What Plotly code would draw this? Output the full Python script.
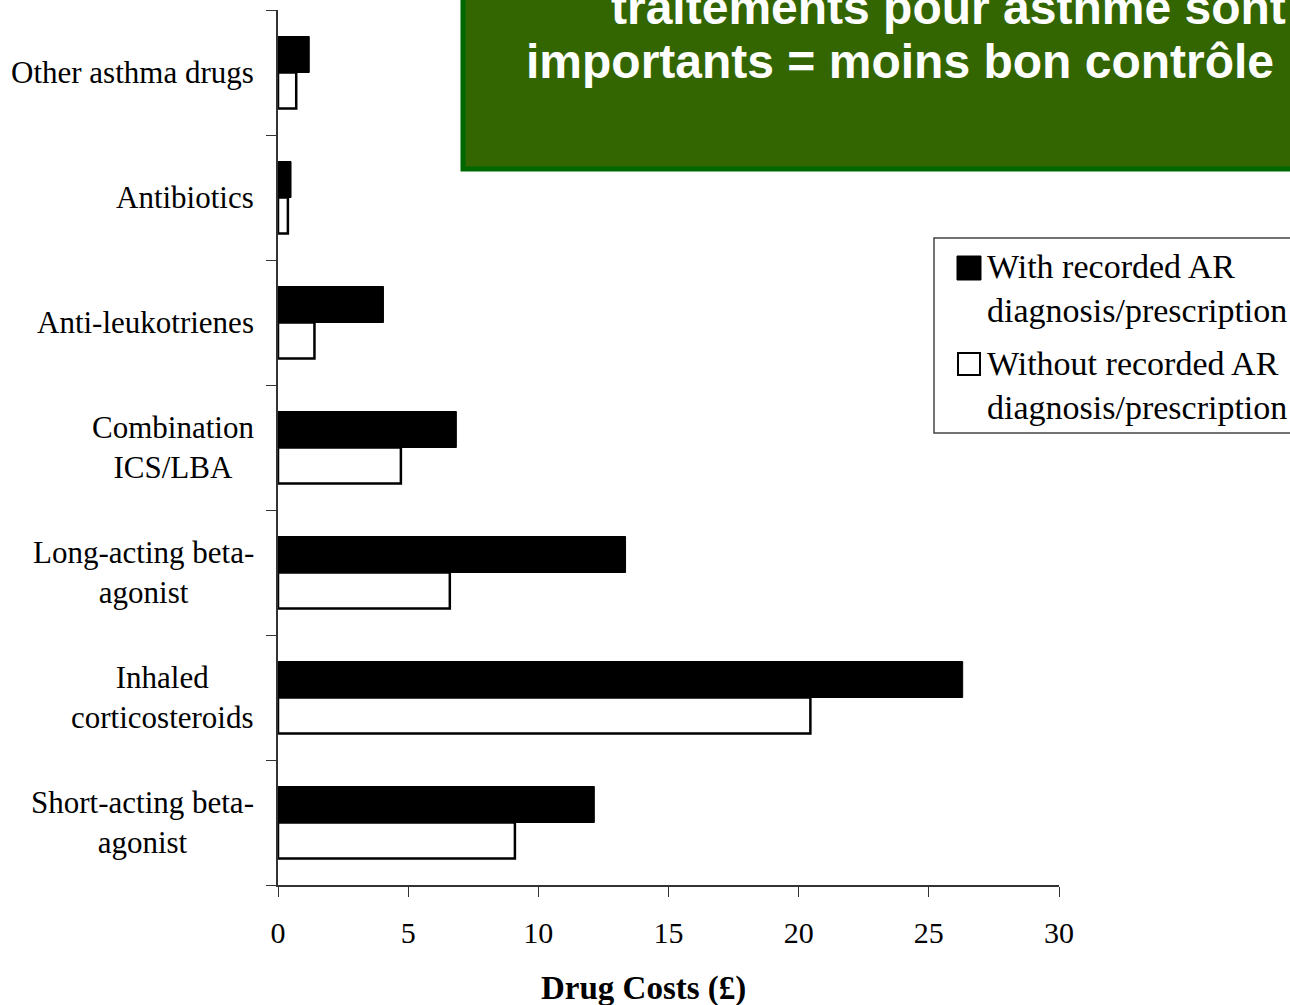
import plotly.graph_objects as go

# Categories from bottom to top
categories = [
    "Short-acting beta-<br>agonist",
    "Inhaled<br>corticosteroids",
    "Long-acting beta-<br>agonist",
    "Combination<br>ICS/LBA",
    "Anti-leukotrienes",
    "Antibiotics",
    "Other asthma drugs",
]
with_ar = [12.15, 26.3, 13.35, 6.85, 4.05, 0.5, 1.2]
without_ar = [9.1, 20.45, 6.6, 4.72, 1.4, 0.38, 0.7]
x_ticks = [0, 5, 10, 15, 20, 25, 30]
series_names = ["With recorded AR<br>diagnosis/prescription",
                "Without recorded AR<br>diagnosis/prescription"]
x_title = "Drug Costs (£)"
banner_lines = ["traitements pour asthme sont", "importants = moins bon contrôle"]

W, H = 1290, 1005
L, R, T, B = 278, 1059, 10, 885
pw, ph = R - L, B - T

def px(xp):
    return (xp - L) / pw

def py(yp):
    return (B - yp) / ph

serif = "Liberation Serif, Times New Roman, serif"
sans = "Liberation Sans, Arial, sans-serif"

fig = go.Figure()
fig.add_trace(go.Bar(y=categories, x=without_ar, orientation="h", name=series_names[1],
                     marker=dict(color="white", line=dict(color="black", width=2.5)),
                     showlegend=False))
fig.add_trace(go.Bar(y=categories, x=with_ar, orientation="h", name=series_names[0],
                     marker=dict(color="black", line=dict(color="black", width=1)),
                     showlegend=False))

annotations = []
for c in categories:
    annotations.append(dict(x=0, xref="paper", xshift=-22, y=c, yref="y", text=c,
                            xanchor="right", yanchor="middle", align="center",
                            showarrow=False, font=dict(family=serif, size=31, color="black")))

annotations.append(dict(x=px(643), y=py(988), xref="paper", yref="paper", text="<b>%s</b>" % x_title,
                        xanchor="center", yanchor="middle", showarrow=False,
                        font=dict(family=serif, size=33, color="black")))

# Legend (manual)
annotations.append(dict(x=px(985), y=py(288), xref="paper", yref="paper", text=series_names[0],
                        xanchor="left", yanchor="middle", align="left", showarrow=False,
                        font=dict(family=serif, size=34, color="black")))
annotations.append(dict(x=px(985), y=py(385), xref="paper", yref="paper", text=series_names[1],
                        xanchor="left", yanchor="middle", align="left", showarrow=False,
                        font=dict(family=serif, size=34, color="black")))

# Banner text
annotations.append(dict(x=px(609), y=py(7), xref="paper", yref="paper", text="<b>%s</b>" % banner_lines[0],
                        xanchor="left", yanchor="middle", showarrow=False,
                        font=dict(family=sans, size=48, color="white")))
annotations.append(dict(x=px(524), y=py(62), xref="paper", yref="paper", text="<b>%s</b>" % banner_lines[1],
                        xanchor="left", yanchor="middle", showarrow=False,
                        font=dict(family=sans, size=48, color="white")))

shapes = [
    # banner
    dict(type="rect", xref="paper", yref="paper", x0=px(463), x1=px(1310), y0=py(169), y1=py(-20),
         fillcolor="#336600", line=dict(color="#006600", width=5), layer="above"),
    # legend box
    dict(type="rect", xref="paper", yref="paper", x0=px(934), x1=px(1310), y0=py(433), y1=py(238),
         fillcolor="white", line=dict(color="#444", width=1.5), layer="above"),
    dict(type="rect", xref="paper", yref="paper", x0=px(957), x1=px(981), y0=py(280), y1=py(256),
         fillcolor="black", line=dict(color="black", width=1), layer="above"),
    dict(type="rect", xref="paper", yref="paper", x0=px(958), x1=px(980), y0=py(375), y1=py(353),
         fillcolor="white", line=dict(color="black", width=2), layer="above"),
]

fig.update_layout(
    width=W, height=H,
    margin=dict(l=L, r=W - R, t=T, b=H - B, pad=0),
    paper_bgcolor="white", plot_bgcolor="white",
    barmode="group", bargap=0.424, bargroupgap=0,
    showlegend=False,
    annotations=annotations, shapes=shapes,
    font=dict(family=serif, size=30, color="black"),
)
fig.update_xaxes(range=[0, 30], tickvals=x_ticks, ticks="outside", ticklen=10, tickwidth=1.2,
                 tickcolor="#333", showline=True, linecolor="#333", linewidth=1.5, showgrid=False,
                 zeroline=False, tickfont=dict(family=serif, size=30, color="black"),
                 ticklabelstandoff=10)
fig.update_yaxes(categoryorder="array", categoryarray=categories, range=[-0.5, 6.5],
                 tickson="boundaries", ticks="outside", ticklen=10, tickwidth=1.2, tickcolor="#333",
                 showline=True, linecolor="#333", linewidth=1.5, showgrid=False, zeroline=False,
                 showticklabels=False)

fig.write_html("out.html", config={"displayModeBar": False},
               post_script="document.body.style.margin='0';document.body.style.overflow='hidden';")
